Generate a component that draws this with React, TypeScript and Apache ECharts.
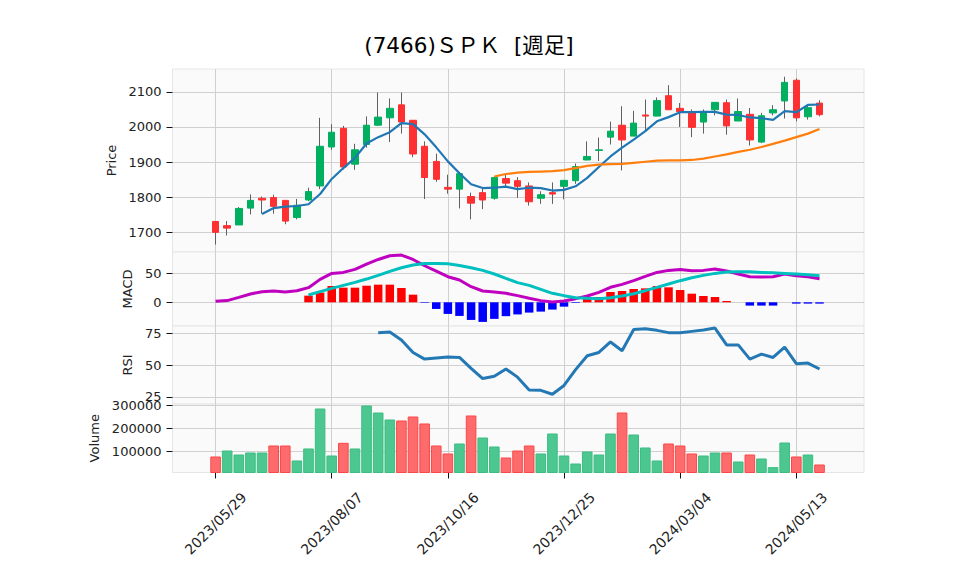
import React, { useEffect, useRef } from "react";
import * as echarts from "echarts";

const dates = [
  "2023/05/29", "2023/06/05", "2023/06/12", "2023/06/19", "2023/06/26", "2023/07/03", "2023/07/10", "2023/07/17",
  "2023/07/24", "2023/07/31", "2023/08/07", "2023/08/14", "2023/08/21", "2023/08/28", "2023/09/04", "2023/09/11",
  "2023/09/18", "2023/09/25", "2023/10/02", "2023/10/09", "2023/10/16", "2023/10/23", "2023/10/30", "2023/11/06",
  "2023/11/13", "2023/11/20", "2023/11/27", "2023/12/04", "2023/12/11", "2023/12/18", "2023/12/25", "2024/01/01",
  "2024/01/08", "2024/01/15", "2024/01/22", "2024/01/29", "2024/02/05", "2024/02/12", "2024/02/19", "2024/02/26",
  "2024/03/04", "2024/03/11", "2024/03/18", "2024/03/25", "2024/04/01", "2024/04/08", "2024/04/15", "2024/04/22",
  "2024/04/29", "2024/05/06", "2024/05/13", "2024/05/20", "2024/05/27",
];

const opens = [
  1731, 1719, 1721, 1769, 1797, 1799, 1791, 1742, 1792, 1832, 1943, 1996, 1894, 1950, 2005, 2026, 2063, 2019,
  1945, 1902, 1828, 1823, 1802, 1813, 1797, 1853, 1847, 1832, 1797, 1813, 1831, 1847, 1906, 1933, 1971, 2005,
  1974, 2034, 2031, 2089, 2053, 2043, 2014, 2049, 2069, 2017, 2036, 1957, 2040, 2074, 2133, 2029, 2068,
];
const closes = [
  1700, 1712, 1768, 1791, 1792, 1774, 1732, 1777, 1816, 1945, 1985, 1886, 1935, 2005, 2028, 2053, 2014, 1923,
  1856, 1851, 1823, 1867, 1783, 1792, 1856, 1840, 1831, 1787, 1807, 1809, 1848, 1887, 1916, 1935, 1988, 1963,
  2011, 2031, 2075, 2049, 2044, 1999, 2044, 2070, 2003, 2044, 1963, 2032, 2049, 2127, 2026, 2055, 2035,
];
const highs = [
  1732, 1732, 1772, 1808, 1802, 1807, 1791, 1795, 1827, 2026, 2008, 2003, 1952, 2030, 2098, 2081, 2098, 2019,
  1959, 1924, 1864, 1867, 1813, 1824, 1859, 1867, 1857, 1842, 1817, 1842, 1848, 1896, 1959, 1970, 2015, 2059,
  2046, 2078, 2084, 2119, 2068, 2050, 2050, 2071, 2078, 2081, 2054, 2040, 2062, 2143, 2138, 2062, 2076,
];
const lows = [
  1665, 1691, 1721, 1751, 1753, 1753, 1723, 1737, 1789, 1823, 1935, 1879, 1878, 1941, 2003, 1957, 1981, 1914,
  1795, 1844, 1810, 1768, 1737, 1766, 1793, 1829, 1798, 1776, 1781, 1781, 1794, 1838, 1905, 1903, 1950, 1876,
  1974, 1991, 2031, 2049, 2000, 1971, 1981, 2033, 1978, 2017, 1947, 1954, 2033, 2024, 2016, 2021, 2030,
];
const volumes = [
  78400, 104300, 87000, 95700, 95700, 125900, 125900, 61200, 113000, 285600, 82700, 137400, 113000, 298600,
  268300, 238100, 233800, 251100, 220900, 125900, 91400, 134500, 255400, 160400, 121600, 74100, 104300, 125900,
  91400, 177700, 82700, 48200, 100000, 87000, 177700, 268300, 173400, 117300, 61200, 134500, 125900, 91400,
  82700, 95700, 95700, 56800, 87000, 69800, 32400, 138800, 78400, 87000, 43900,
];
const ma5 = [
  null, null, null, null, 1752, 1769, 1773, 1775, 1780, 1809, 1852, 1883, 1912, 1953, 1971, 1985, 2011, 2008,
  1979, 1942, 1902, 1868, 1837, 1826, 1827, 1830, 1823, 1827, 1826, 1819, 1821, 1831, 1855, 1886, 1916, 1941,
  1964, 1988, 2016, 2028, 2042, 2042, 2043, 2043, 2035, 2034, 2027, 2025, 2020, 2045, 2042, 2063, 2064,
];
const ma25 = [
  null, null, null, null, null, null, null, null, null, null, null, null, null, null, null, null, null, null,
  null, null, null, null, null, null, 1859, 1866, 1870, 1872, 1873, 1874, 1877, 1883, 1889, 1893, 1894, 1895,
  1898, 1901, 1904, 1905, 1905, 1906, 1910, 1916, 1922, 1929, 1935, 1943, 1952, 1961, 1971, 1981, 1994,
];
const macd = [
  1.7, 2.9, 8.6, 14.4, 18.4, 19.5, 17.8, 20.1, 25.3, 39.7, 50, 51.7, 56.9, 66.1, 74.1, 80.5, 81.6, 74.1, 63.2,
  54, 44.3, 38.5, 27, 19.5, 17.8, 15.5, 11.5, 6.9, 2.9, 0.6, 2.3, 6.3, 10.9, 17.2, 25.9, 31, 37.4, 44.8, 51.7,
  55.2, 56.9, 54.6, 55.2, 57.5, 54, 48.9, 44.3, 43.7, 44.3, 48.9, 46, 44.3, 40.8,
];
const signal = [
  null, null, null, null, null, null, null, null, 12.6, 18.4, 24.1, 29.3, 34.5, 40.2, 46.6, 53.4, 59.8, 64.4,
  67.2, 67.2, 66.7, 63.8, 59.8, 55.2, 48.9, 41.4, 34, 29.3, 22.4, 15.5, 11.5, 8, 6.9, 6.3, 8, 10.9, 14.9, 20.1,
  25.9, 31.6, 37.4, 42.5, 46.6, 50, 52.3, 52.9, 52.9, 51.7, 51.1, 50, 48.9, 47.7, 46,
];
const histogram = [
  null, null, null, null, null, null, null, null, 11.5, 16.7, 28.2, 25.3, 25.3, 28.7, 30.5, 30.5, 24.7, 13.2,
  -1, -11.5, -20.1, -23.6, -30.5, -33.9, -28.7, -24, -21, -17.8, -16.1, -12.6, -7.5, -1.1, 9.2, 9.2, 17.8, 19.5,
  23, 24.1, 28.2, 25.9, 21.3, 14.9, 10.9, 9.2, 2.3, 0, -5.7, -5.7, -5.7, 0, -2.3, -2.3, -2.3,
];
const rsi = [
  null, null, null, null, null, null, null, null, null, null, null, null, null, null, 75.3, 75.8, 69.6, 59.8,
  54.6, 55.4, 56.2, 55.9, 47.4, 39.4, 41.2, 46.9, 40.5, 30.4, 30.2, 27.1, 34, 46.4, 57.2, 59.8, 68, 61.1, 77.8,
  78.4, 77.1, 75.3, 75.3, 76.3, 77.3, 78.9, 65.7, 65.7, 54.6, 58.5, 55.9, 63.9, 51, 51.5, 46.9,
];

const dateTickIndex = [0, 10, 20, 30, 40, 50];
const priceTicks = [1700, 1800, 1900, 2000, 2100];
const macdTicks = [0, 50];
const rsiTicks = [25, 50, 75];
const volumeTicks = [100000, 200000, 300000];

const TITLE = "(7466)ＳＰＫ  [週足]";

const FONT = '"DejaVu Sans", "Noto Sans CJK JP", sans-serif';
const LEFT = 172.5;
const WIDTH = 691.5;
const XMIN = -3.71;
const XMAX = 55.83;

function pairs(arr: (number | null)[]) {
  const out: [number, number][] = [];
  arr.forEach((v, i) => {
    if (v != null) out.push([i, v]);
  });
  return out;
}

function buildOption() {
  const panels = [
    { top: 69, height: 183, min: 1644, max: 2165, ticks: priceTicks, name: "Price", gap: 45 },
    { top: 252, height: 74, min: -41, max: 87, ticks: macdTicks, name: "MACD", gap: 28 },
    { top: 326, height: 78, min: 19.5, max: 80.5, ticks: rsiTicks, name: "RSI", gap: 28 },
    { top: 404, height: 68.5, min: 9300, max: 305000, ticks: volumeTicks, name: "Volume", gap: 65 },
  ];
  const grid = panels.map((p) => ({
    left: LEFT,
    width: WIDTH,
    top: p.top,
    height: p.height,
    show: true,
    backgroundColor: "#fafafa",
    borderColor: "#e6e6e6",
    borderWidth: 1,
    containLabel: false,
  }));
  const xAxis = panels.map((_, i) => ({
    type: "value",
    gridIndex: i,
    min: XMIN,
    max: XMAX,
    axisLine: { show: false, onZero: false },
    axisTick: {
      show: i === 3,
      customValues: dateTickIndex,
      length: 6,
      lineStyle: { color: "#111", width: 1 },
    },
    axisLabel: {
      show: i === 3,
      customValues: dateTickIndex,
      formatter: (v: number) => dates[Math.round(v)] ?? "",
      rotate: 45,
      align: "center",
      verticalAlign: "middle",
      margin: 51,
      fontSize: 14,
      fontFamily: FONT,
      color: "#222",
    },
    splitLine: { show: true, lineStyle: { color: "#d0d0d0", width: 1 } },
  }));
  const yAxis = panels.map((p, i) => ({
    type: "value",
    gridIndex: i,
    min: p.min,
    max: p.max,
    position: "left",
    axisLine: { show: false, onZero: false },
    axisTick: { show: true, customValues: p.ticks, length: 6, lineStyle: { color: "#111", width: 1 } },
    axisLabel: {
      customValues: p.ticks,
      formatter: (v: number) => String(v),
      margin: 11,
      fontSize: 13,
      fontFamily: FONT,
      color: "#222",
    },
    splitLine: { show: true, lineStyle: { color: "#d0d0d0", width: 1 } },
    name: p.name,
    nameLocation: "middle",
    nameRotate: 90,
    nameGap: p.gap,
    nameTextStyle: { fontSize: 13, fontFamily: FONT, color: "#222" },
  }));

  const candleData = opens.map((o, i) => [i, o, closes[i], lows[i], highs[i]]);
  const bodyData = opens.map((o, i) => [i, o, closes[i], Math.min(o, closes[i]), Math.max(o, closes[i])]);

  const volumeData = volumes.map((v, i) => {
    const up = i === 0 ? closes[0] >= opens[0] : closes[i] >= closes[i - 1];
    return {
      value: [i, v],
      itemStyle: {
        color: up ? "#4dc790" : "#fd6b6c",
        borderColor: up ? "#3cbd83" : "#fc4748",
        borderWidth: 1,
      },
    };
  });
  const histData = histogram
    .map((v, i) =>
      v == null ? null : { value: [i, v], itemStyle: { color: v >= 0 ? "#ff0000" : "#0000ff" } }
    )
    .filter((d) => d != null);

  const wick = "#606060";

  return {
    animation: false,
    backgroundColor: "#ffffff",
    grid,
    xAxis,
    yAxis,
    graphic: [
      {
        type: "text",
        x: 469,
        y: 45,
        style: {
          text: TITLE,
          fontSize: 21.5,
          fontFamily: FONT,
          fill: "#000",
          align: "center",
          verticalAlign: "middle",
          textAlign: "center",
          textVerticalAlign: "middle",
        },
      },
    ],
    series: [
      {
        type: "candlestick",
        name: "wick",
        xAxisIndex: 0,
        yAxisIndex: 0,
        encode: { x: 0, y: [1, 2, 3, 4] },
        data: candleData,
        barWidth: 1,
        itemStyle: { color: wick, color0: wick, borderColor: wick, borderColor0: wick, borderWidth: 1 },
        z: 2,
      },
      {
        type: "candlestick",
        name: "body",
        xAxisIndex: 0,
        yAxisIndex: 0,
        encode: { x: 0, y: [1, 2, 3, 4] },
        data: bodyData,
        barWidth: 7,
        itemStyle: {
          color: "#00b060",
          color0: "#fe3032",
          borderColor: "#00b060",
          borderColor0: "#fe3032",
          borderWidth: 1,
        },
        z: 3,
      },
      {
        type: "line",
        name: "MA5",
        xAxisIndex: 0,
        yAxisIndex: 0,
        data: pairs(ma5),
        symbol: "none",
        lineStyle: { color: "#2077b4", width: 2.2 },
        itemStyle: { color: "#2077b4" },
        z: 4,
      },
      {
        type: "line",
        name: "MA25",
        xAxisIndex: 0,
        yAxisIndex: 0,
        data: pairs(ma25),
        symbol: "none",
        lineStyle: { color: "#ff7f0e", width: 2.2 },
        itemStyle: { color: "#ff7f0e" },
        z: 4,
      },
      {
        type: "bar",
        name: "hist",
        xAxisIndex: 1,
        yAxisIndex: 1,
        data: histData,
        barWidth: 8.5,
        z: 2,
      },
      {
        type: "line",
        name: "MACD",
        xAxisIndex: 1,
        yAxisIndex: 1,
        data: pairs(macd),
        symbol: "none",
        lineStyle: { color: "#bf00bf", width: 3 },
        itemStyle: { color: "#bf00bf" },
        z: 3,
      },
      {
        type: "line",
        name: "Signal",
        xAxisIndex: 1,
        yAxisIndex: 1,
        data: pairs(signal),
        symbol: "none",
        lineStyle: { color: "#00bfbf", width: 3 },
        itemStyle: { color: "#00bfbf" },
        z: 4,
      },
      {
        type: "line",
        name: "RSI",
        xAxisIndex: 2,
        yAxisIndex: 2,
        data: pairs(rsi),
        symbol: "none",
        lineStyle: { color: "#2479b5", width: 3 },
        itemStyle: { color: "#2479b5" },
        z: 3,
      },
      {
        type: "bar",
        name: "Volume",
        xAxisIndex: 3,
        yAxisIndex: 3,
        data: volumeData,
        barWidth: 10.6,
        z: 2,
      },
    ],
  };
}

export default function App() {
  const ref = useRef<HTMLDivElement>(null);
  useEffect(() => {
    if (!ref.current) return;
    const chart = echarts.init(ref.current, null, { renderer: "svg" });
    chart.setOption(buildOption() as any);
    return () => chart.dispose();
  }, []);
  return (
    <div
      ref={ref}
      style={{ position: "fixed", left: 0, top: 0, width: 958, height: 575, background: "#fff" }}
    />
  );
}
